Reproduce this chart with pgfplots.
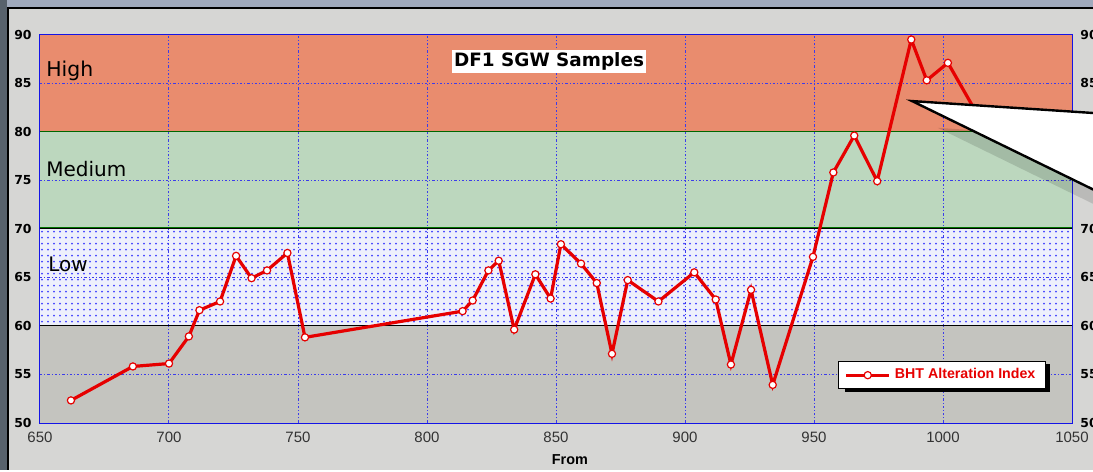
\documentclass[border=0pt]{standalone}
\usepackage{pgfplots}
\pgfplotsset{compat=1.18}
\usepackage{fontspec}
\setmainfont{DejaVu Sans}
\newfontfamily\arialfont{Liberation Sans}
\usetikzlibrary{patterns}

\definecolor{panel}{RGB}{214,214,212}
\definecolor{lowgray}{RGB}{196,196,191}
\definecolor{highband}{RGB}{233,140,110}
\definecolor{medband}{RGB}{188,215,190}
\definecolor{lowband}{RGB}{238,240,252}
\definecolor{gridblue}{RGB}{60,60,235}
\definecolor{axisblue}{RGB}{20,20,230}
\definecolor{darkstrip}{RGB}{88,98,108}
\definecolor{topstrip}{RGB}{160,170,188}
\definecolor{linered}{RGB}{230,0,0}

\begin{document}
\begin{tikzpicture}
\fill[panel] (-20pt,-23.65pt) rectangle (526.5pt,211.35pt);
\fill[darkstrip] (-20pt,-23.65pt) rectangle (-16.5pt,211.35pt);
\fill[topstrip] (-16.5pt,207.85pt) rectangle (526.5pt,211.35pt);
\fill[black] (-16.5pt,-23.65pt) rectangle (-15.5pt,207.85pt);
\fill[black] (-16.5pt,206.85pt) rectangle (526.5pt,207.85pt);

% right-hand tick labels (run past the picture's edge, as in the reference)
\begin{axis}[
  at={(0,0)}, anchor=south west, scale only axis,
  width=516pt, height=194pt,
  xmin=650, xmax=1050, ymin=50, ymax=90,
  hide x axis, axis y line*=right,
  y axis line style={draw=none}, ytick style={draw=none},
  ytick={50,55,...,90},
  /pgf/number format/assume math mode=true,
  yticklabel style={overlay, font=\bfseries\fontsize{6.2}{7}\selectfont, inner sep=0pt, xshift=4pt},
]
\addplot[draw=none, forget plot] coordinates {(700,60) (1000,80)};
\end{axis}

\begin{axis}[
  at={(0,0)}, anchor=south west, scale only axis,
  width=516pt, height=194pt,
  xmin=650, xmax=1050, ymin=50, ymax=90,
  xtick={650,700,...,1050},
  xticklabels={650,700,750,800,850,900,950,1000,1050},
  ytick={50,55,...,90},
  /pgf/number format/assume math mode=true,
  minor x tick num=4,
  tick align=inside,
  major tick length=2.5pt, minor tick length=2pt,
  tick style={axisblue, line width=0.5pt},
  axis line style={axisblue, line width=0.8pt},
  clip=false,
  xticklabel style={font=\arialfont\fontsize{7.5}{8}\selectfont, text=black!80, inner sep=0pt, yshift=-4.5pt},
  yticklabel style={font=\bfseries\fontsize{6.2}{7}\selectfont, inner sep=0pt, xshift=-4pt},
  legend style={at={(0.874,0.1225)}, anchor=center, draw=black, line width=0.6pt,
    fill=white, font=\arialfont\bfseries\fontsize{7.1}{8}\selectfont, text=linered,
    inner xsep=3pt, inner ysep=1.5pt},
  legend image code/.code={\draw[#1, mark indices={2}] plot coordinates {(0cm,0cm) (0.38cm,0cm) (0.76cm,0cm)};},
]
\fill[lowgray] (axis cs:650,50) rectangle (axis cs:1050,60);
\fill[lowband] (axis cs:650,60) rectangle (axis cs:1050,70);
\fill[pattern=dots, pattern color=blue!75] (axis cs:650,60) rectangle (axis cs:1050,70);
\fill[medband] (axis cs:650,70) rectangle (axis cs:1050,80);
\fill[highband] (axis cs:650,80) rectangle (axis cs:1050,90);
% grid
\foreach \gx in {700,750,...,1000} {
  \edef\tmp{\noexpand\draw[gridblue, line width=0.5pt, dash pattern=on 1.2pt off 1pt on 0.5pt off 1pt] (axis cs:\gx,50) -- (axis cs:\gx,90);}\tmp
}
\foreach \gy in {55,65,75,85} {
  \edef\tmp{\noexpand\draw[gridblue, line width=0.5pt, dash pattern=on 1.2pt off 1pt on 0.5pt off 1pt] (axis cs:650,\gy) -- (axis cs:1050,\gy);}\tmp
}
\draw[black, line width=0.6pt] (axis cs:650,60) -- (axis cs:1050,60);
\draw[black, line width=0.6pt] (axis cs:650,70) -- (axis cs:1050,70);
\draw[green!45!black, line width=0.4pt] (axis cs:650,70.12) -- (axis cs:1050,70.12);
\draw[black!60!green, line width=0.6pt] (axis cs:650,80) -- (axis cs:1050,80);

\node[anchor=base west, inner sep=0pt, font=\fontsize{10.2}{12}\selectfont] at (axis cs:652.3,85.67) {High};
\node[anchor=base west, inner sep=0pt, font=\fontsize{10}{12}\selectfont] at (axis cs:652.3,75.36) {Medium};
\node[anchor=base west, inner sep=0pt, font=\fontsize{10}{12}\selectfont] at (axis cs:653.1,65.57) {Low};
\node[fill=white, inner xsep=1pt, inner ysep=0pt, minimum height=11.5pt, font=\bfseries\fontsize{9.2}{11}\selectfont] at (axis cs:847.3,87.24) {DF1 SGW Samples};
\node[font=\arialfont\bfseries\fontsize{7.2}{8}\selectfont] at (axis cs:855.4,46.15) {From};

% legend shadow
\fill[black] (axis cs:962.0,56.05) rectangle (axis cs:1041.5,53.16);

\addplot[linered, line width=1.6pt, mark=*, mark size=1.8pt, mark indices={1,...,36},
  mark options={fill=white, draw=linered, line width=0.6pt}] coordinates {
(662.0,52.3) (686.0,55.8) (700.0,56.1) (707.7,58.9) (711.8,61.6) (719.8,62.5)
(726.0,67.2) (732.0,64.9) (738.0,65.7) (745.9,67.5) (752.7,58.8) (813.8,61.5)
(817.7,62.6) (823.8,65.7) (827.8,66.7) (833.8,59.6) (842.0,65.3) (847.9,62.8)
(851.9,68.4) (859.7,66.4) (865.8,64.4) (871.7,57.1) (877.8,64.7) (889.7,62.5)
(903.6,65.5) (911.9,62.7) (917.8,56.0) (925.6,63.7) (934.0,53.9) (949.6,67.1)
(957.5,75.8) (965.6,79.6) (974.5,74.9) (987.7,89.5) (993.7,85.3) (1001.9,87.1)
(1015.0,81.0)
};
\addlegendentry{BHT Alteration Index}

% callout (runs past the picture's edge, as in the reference)
\fill[overlay, black, opacity=0.13] (axis cs:998,80.4) -- (axis cs:1071,79.1) -- (axis cs:1071,70.9) -- cycle;
\filldraw[overlay, fill=white, draw=black, line width=1.2pt, line join=miter] (axis cs:988,83.16) -- (axis cs:1061,81.88) -- (axis cs:1061,73.68) -- cycle;
\end{axis}
\end{tikzpicture}
\end{document}
